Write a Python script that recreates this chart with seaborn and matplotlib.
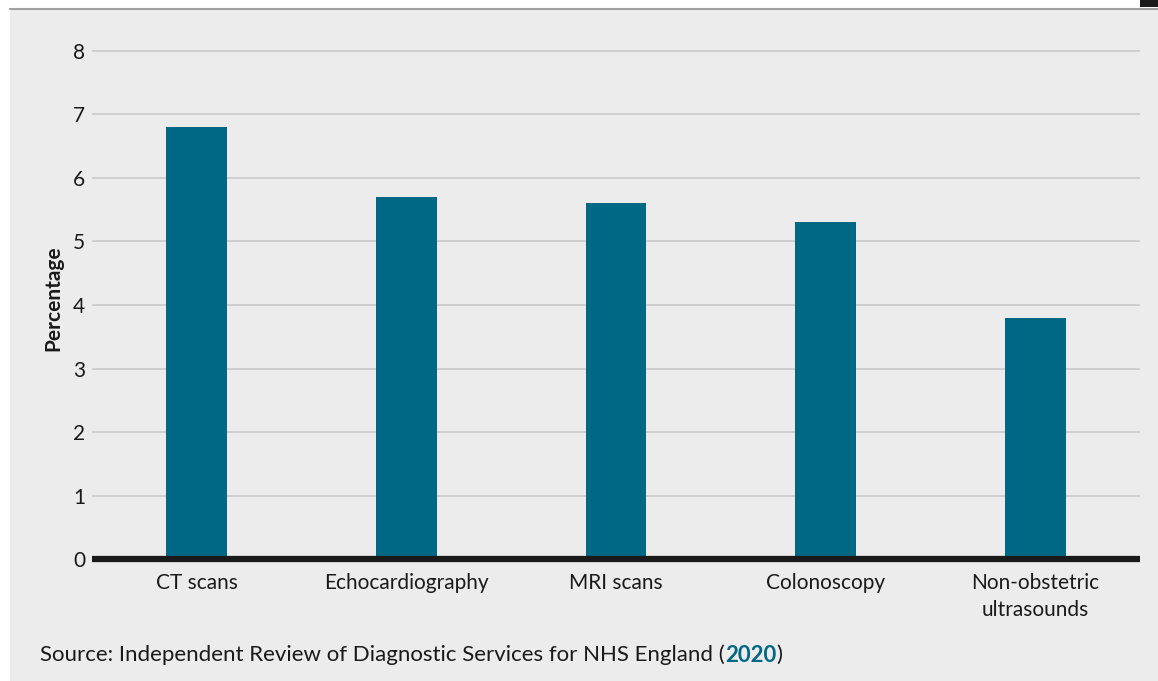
import matplotlib
matplotlib.use("Agg")
import pandas as pd
import seaborn as sns
import matplotlib.pyplot as plt
from matplotlib.patches import Rectangle

categories = ["CT scans", "Echocardiography", "MRI scans", "Colonoscopy",
              "Non-obstetric\nultrasounds"]
values = [6.8, 5.7, 5.6, 5.3, 3.8]
yticks = [0, 1, 2, 3, 4, 5, 6, 7, 8]

df = pd.DataFrame({"test": categories, "pct": values})

sns.set_theme(style="white")
plt.rcParams["font.family"] = ["Lato", "DejaVu Sans"]

bg = "#ececec"
teal = "#006784"
ink = "#1a1a1a"

fig = plt.figure(figsize=(11.58, 6.81), dpi=100, facecolor="white")
# grey panel behind the chart
fig.patches.append(Rectangle((10 / 1158, 0), 1, (681 - 10) / 681, transform=fig.transFigure,
                             facecolor=bg, edgecolor="none", zorder=-10))
fig.add_artist(plt.Line2D([10 / 1158, 1], [(681 - 9) / 681] * 2, color="#a0a0a0", lw=1.5,
                          zorder=-5))
fig.patches.append(Rectangle((1140 / 1158, (681 - 7) / 681), 18 / 1158, 7 / 681,
                             transform=fig.transFigure, facecolor=ink, edgecolor="none",
                             zorder=-5))

ax = fig.add_axes([92 / 1158, 0.1791, (1140 - 92) / 1158, 0.7647])
ax.set_facecolor("none")

sns.barplot(data=df, x="test", y="pct", color=teal, width=0.29, saturation=1,
            linewidth=0, edgecolor="none", ax=ax, zorder=3)

ax.set_ylim(0, 8.2)
ax.set_xlim(-0.5, 4.5)
ax.set_yticks(yticks)
ax.yaxis.grid(True, color="#cccccc", lw=1.3)
ax.set_axisbelow(True)
ax.axhline(0, color=ink, lw=4.5, zorder=4, clip_on=False, solid_capstyle="butt")
for s in ax.spines.values():
    s.set_visible(False)
ax.tick_params(axis="both", length=0, labelsize=15, colors=ink)
ax.tick_params(axis="y", pad=5)
ax.tick_params(axis="x", pad=10)
ax.set_xlabel("")
ax.set_ylabel("Percentage", fontsize=15, fontweight="bold", color=ink, labelpad=7)
for lbl in ax.get_xticklabels():
    lbl.set_linespacing(1.45)

# source line with the year in teal bold
ysrc = 1 - 655 / 681
src = fig.text(40 / 1158, ysrc, "Source: Independent Review of Diagnostic Services for NHS England (",
               fontsize=16, color=ink, va="center")
fig.canvas.draw()
x1 = src.get_window_extent().x1 / fig.bbox.width
yr = fig.text(x1, ysrc, "2020", fontsize=16, color=teal, fontweight="bold", va="center")
fig.canvas.draw()
x2 = yr.get_window_extent().x1 / fig.bbox.width
fig.text(x2, ysrc, ")", fontsize=16, color=ink, va="center")

fig.savefig("out.png", dpi=100, facecolor="white")
